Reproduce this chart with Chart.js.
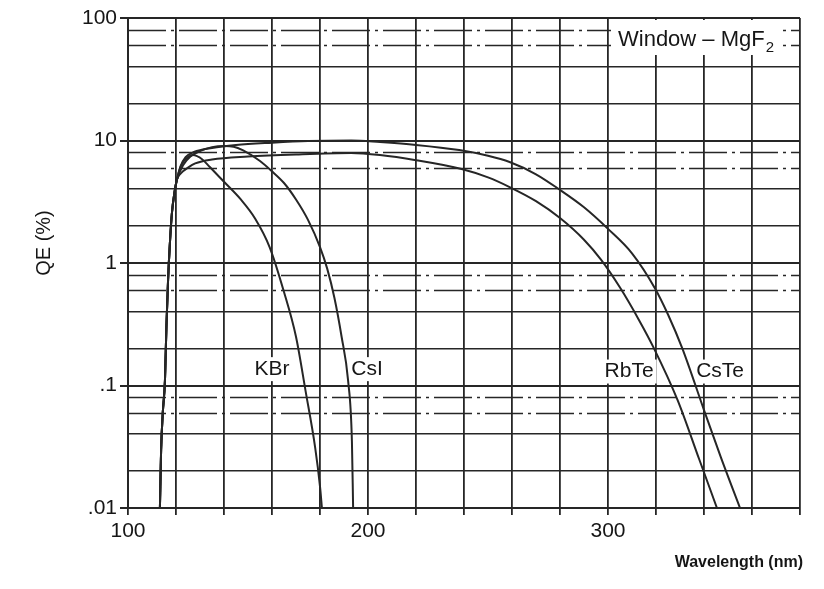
<!DOCTYPE html>
<html>
<head>
<meta charset="utf-8">
<title>QE (%) - Window MgF2</title>
<script src="https://cdn.jsdelivr.net/npm/chart.js@4.4.1/dist/chart.umd.min.js"></script>
<style>
    html, body { margin: 0; padding: 0; background: #fff; }
    #wrap { width: 824px; height: 589px; }
</style>
</head>
<body>
<div id="wrap"><canvas id="qe-chart" width="824" height="589"></canvas></div>
<script>
// wavelength (nm) / QE (%)
// all four cathodes share the MgF2 window cut-off
var edgeNm = [113.3, 113.8, 114.5, 115.4, 116.0, 116.7, 117.5, 118.3, 119.3];
var edgeQE = [0.01, 0.03, 0.06, 0.11, 0.3, 0.73, 1.5, 2.56, 3.7];

var kbrNm = [120.4, 122, 125, 127, 131, 134, 140, 147, 153, 159, 165, 170, 174, 178, 180, 180.8];
var kbrQE = [4.8, 6.2, 7.3, 7.6, 7.0, 6.1, 4.6, 3.3, 2.3, 1.35, 0.58, 0.25, 0.09, 0.031, 0.015, 0.01];

var csiNm = [120.4, 123, 126, 130, 135, 140, 144, 148, 155, 160, 165, 170, 175, 180, 183, 186, 189, 191.7, 193.3, 193.8];
var csiQE = [4.8, 6.3, 7.4, 8.2, 8.8, 9.0, 8.9, 8.3, 6.8, 5.6, 4.5, 3.3, 2.25, 1.35, 0.9, 0.52, 0.25, 0.11, 0.035, 0.01];

var rbteNm = [120.4, 122, 125, 128, 135, 150, 170, 193, 205, 220, 239, 250, 259, 270, 280, 290, 297, 305, 313, 319, 329, 338, 345.4];
var rbteQE = [4.8, 5.4, 6.0, 6.5, 7.0, 7.4, 7.7, 7.9, 7.6, 6.9, 5.85, 5.0, 4.17, 3.2, 2.33, 1.55, 1.07, 0.63, 0.34, 0.204, 0.076, 0.025, 0.01];

var csteNm = [120.4, 122, 124, 127.5, 135, 145, 160, 175, 193, 205, 220, 238, 250, 259, 270, 280, 290, 300, 310, 319.6, 325, 331, 340, 347, 355];
var csteQE = [4.8, 6.2, 7.3, 8.05, 8.7, 9.2, 9.6, 9.9, 10.0, 9.7, 9.2, 8.35, 7.5, 6.67, 5.3, 3.95, 2.85, 1.9, 1.2, 0.62, 0.38, 0.2, 0.063, 0.026, 0.01];

var seriesNames = ["KBr", "CsI", "RbTe", "CsTe"];

// axes
var xMin = 100, xMax = 380, xStep = 20;
var xTickLabels = [100, 200, 300];
var yDecades = [0.01, 0.1, 1, 10, 100];
var yDecadeLabels = [".01", ".1", "1", "10", "100"];
var yMinorSteps = [2, 4, 6, 8];
var yDashedSteps = [6, 8];

var FONT = '"Liberation Sans", Arial, Helvetica, sans-serif';
var INK = "#262626";
var TEXT = "#161616";

function points(nm, qe) {
    var all = edgeNm.concat(nm), vals = edgeQE.concat(qe);
    return all.map(function (x, i) { return { x: x, y: vals[i] }; });
}

var yGrid = [];
yDecades.forEach(function (d, i) {
    yGrid.push({ value: d, step: 1 });
    if (i < yDecades.length - 1) {
        yMinorSteps.forEach(function (m) { yGrid.push({ value: d * m, step: m }); });
    }
});
yGrid.sort(function (a, b) { return a.value - b.value; });

function stepOf(v) {
    for (var i = 0; i < yGrid.length; i++) {
        if (Math.abs(Math.log10(yGrid[i].value) - Math.log10(v)) < 1e-6) return yGrid[i].step;
    }
    return 0;
}

function decadeLabel(v) {
    for (var i = 0; i < yDecades.length; i++) {
        if (Math.abs(Math.log10(yDecades[i]) - Math.log10(v)) < 1e-6) return yDecadeLabels[i];
    }
    return "";
}

// where the curve names sit, in data units
var curveLabels = [
    { text: "KBr", x: 160, y: 0.136 },
    { text: "CsI", x: 199.6, y: 0.136 },
    { text: "RbTe", x: 308.8, y: 0.13 },
    { text: "CsTe", x: 346.7, y: 0.13 }
];

var annotations = {
    id: "annotations",
    beforeDatasetsDraw: function (chart) {
        var ctx = chart.ctx, xs = chart.scales.x, ys = chart.scales.y, area = chart.chartArea;
        ctx.save();
        // dash-dot minor lines, like the printed log paper
        ctx.strokeStyle = INK;
        ctx.lineWidth = 1.5;
        ctx.setLineDash([38, 5, 3, 5]);
        yGrid.forEach(function (g) {
            if (yDashedSteps.indexOf(g.step) < 0) return;
            var py = Math.round(ys.getPixelForValue(g.value)) + 0.5;
            ctx.beginPath();
            ctx.moveTo(area.left, py);
            ctx.lineTo(area.right, py);
            ctx.stroke();
        });
        ctx.setLineDash([]);
        // paper under the labels
        ctx.fillStyle = "#fff";
        ctx.font = "21px " + FONT;
        curveLabels.forEach(function (l) {
            var w = ctx.measureText(l.text).width;
            var px = xs.getPixelForValue(l.x), py = ys.getPixelForValue(l.y);
            ctx.fillRect(px - w / 2 - 3, py - 12, w + 6, 24);
        });
        ctx.fillRect(611, 20, 172, 35);
        ctx.restore();
    },
    afterDatasetsDraw: function (chart) {
        var ctx = chart.ctx, xs = chart.scales.x, ys = chart.scales.y;
        ctx.save();
        ctx.fillStyle = TEXT;
        ctx.textAlign = "center";
        ctx.textBaseline = "middle";
        ctx.font = "21px " + FONT;
        curveLabels.forEach(function (l) {
            ctx.fillText(l.text, xs.getPixelForValue(l.x), ys.getPixelForValue(l.y));
        });

        ctx.textAlign = "left";
        ctx.textBaseline = "alphabetic";
        ctx.font = "22px " + FONT;
        var head = "Window \u2013 MgF";
        ctx.fillText(head, 618, 46);
        var hw = ctx.measureText(head).width;
        ctx.font = "15px " + FONT;
        ctx.fillText("2", 618 + hw + 1, 52);

        ctx.font = "bold 16px " + FONT;
        ctx.textAlign = "right";
        ctx.textBaseline = "middle";
        ctx.fillText("Wavelength (nm)", 803, 563);

        ctx.font = "20px " + FONT;
        ctx.textAlign = "center";
        ctx.translate(44, 243);
        ctx.rotate(-Math.PI / 2);
        ctx.fillText("QE (%)", 0, 0);
        ctx.restore();
    }
};

var curves = [
    points(kbrNm, kbrQE),
    points(csiNm, csiQE),
    points(rbteNm, rbteQE),
    points(csteNm, csteQE)
];

var chart = new Chart(document.getElementById("qe-chart"), {
    type: "line",
    data: {
        datasets: curves.map(function (pts, i) {
            return {
                label: seriesNames[i],
                data: pts,
                borderColor: INK,
                borderWidth: 2,
                pointRadius: 0,
                fill: false,
                cubicInterpolationMode: "monotone"
            };
        })
    },
    plugins: [annotations],
    options: {
        responsive: false,
        animation: false,
        devicePixelRatio: 1,
        layout: { padding: { top: 18, right: 24, bottom: 0, left: 0 } },
        plugins: {
            legend: { display: false },
            tooltip: { enabled: false }
        },
        scales: {
            x: {
                type: "linear",
                min: xMin,
                max: xMax,
                afterFit: function (scale) { scale.height = 81; },
                ticks: {
                    stepSize: xStep,
                    autoSkip: false,
                    maxRotation: 0,
                    padding: 4,
                    color: TEXT,
                    font: { family: FONT, size: 21 },
                    callback: function (v) { return xTickLabels.indexOf(v) >= 0 ? String(v) : ""; }
                },
                grid: { color: INK, lineWidth: 1.8, tickLength: 7, tickColor: INK },
                border: { color: INK, width: 2 }
            },
            y: {
                type: "logarithmic",
                min: yDecades[0],
                max: yDecades[yDecades.length - 1],
                afterFit: function (scale) { scale.width = 128; },
                afterBuildTicks: function (scale) {
                    scale.ticks = yGrid.map(function (g) { return { value: g.value }; });
                },
                ticks: {
                    autoSkip: false,
                    padding: 3,
                    color: TEXT,
                    font: { family: FONT, size: 21 },
                    callback: function (v) { return decadeLabel(v); }
                },
                grid: {
                    color: function (c) {
                        var s = c.tick ? stepOf(c.tick.value) : 1;
                        return yDashedSteps.indexOf(s) >= 0 ? "rgba(0,0,0,0)" : INK;
                    },
                    lineWidth: function (c) {
                        return c.tick && stepOf(c.tick.value) === 1 ? 2 : 1.5;
                    },
                    tickLength: 8,
                    tickColor: function (c) {
                        return c.tick && stepOf(c.tick.value) === 1 ? INK : "rgba(0,0,0,0)";
                    }
                },
                border: { color: INK, width: 2 }
            }
        }
    }
});
</script>
</body>
</html>
